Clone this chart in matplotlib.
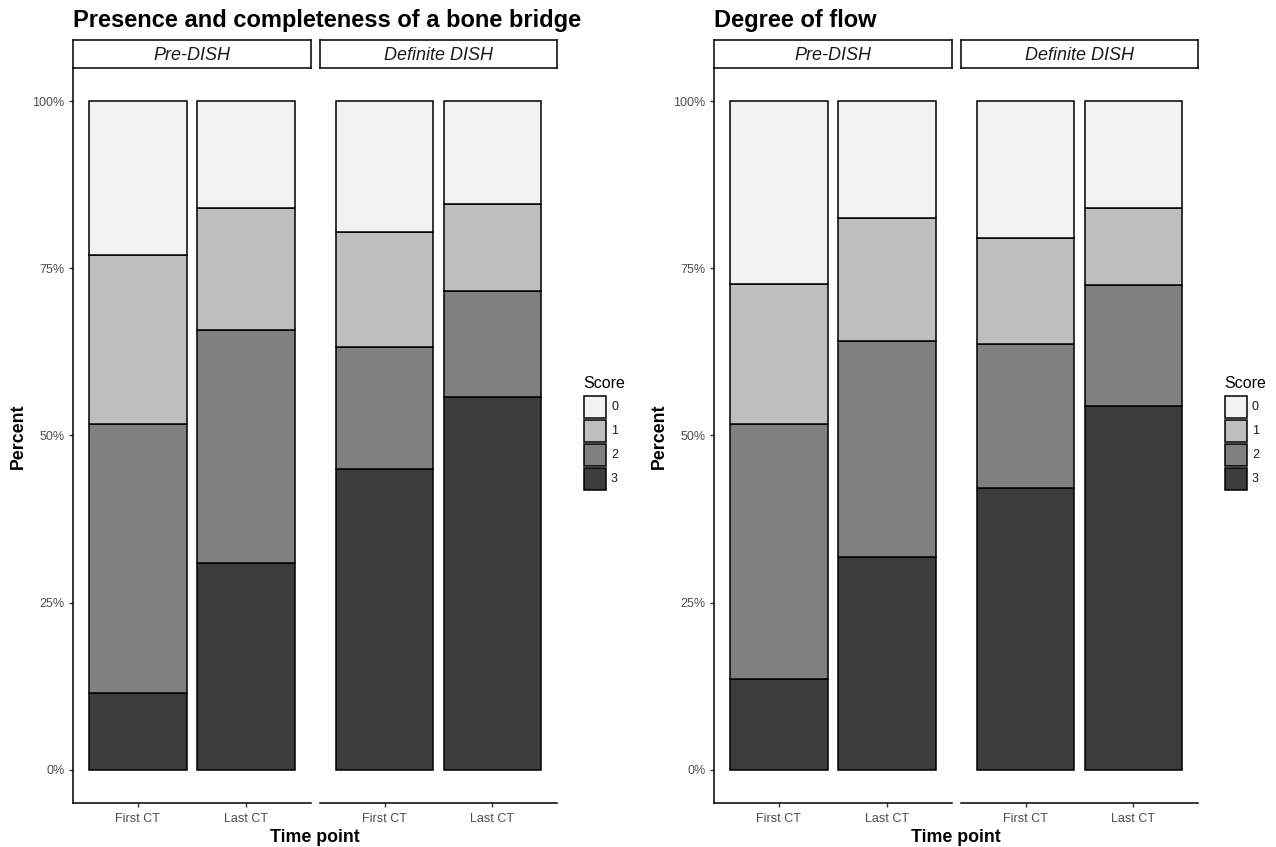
import matplotlib
matplotlib.use("Agg")
import matplotlib.pyplot as plt
from matplotlib.patches import Rectangle
from matplotlib.ticker import FuncFormatter

plt.rcParams['font.family'] = ['Liberation Sans', 'DejaVu Sans']

timepoints = ["First CT", "Last CT"]
groups = ["Pre-DISH", "Definite DISH"]
scores = ["0", "1", "2", "3"]
score_colors = ["#F2F2F2", "#BEBEBE", "#808080", "#3D3D3D"]

# percent per score (0, 1, 2, 3) for each timepoint
bridge_pre = {"0": [23.0, 16.0], "1": [25.3, 18.2], "2": [40.2, 34.9], "3": [11.5, 30.9]}
bridge_def = {"0": [19.6, 15.4], "1": [17.2, 13.0], "2": [18.2, 15.8], "3": [45.0, 55.8]}
flow_pre = {"0": [27.4, 17.5], "1": [20.9, 18.4], "2": [38.2, 32.3], "3": [13.5, 31.8]}
flow_def = {"0": [20.5, 16.0], "1": [15.8, 11.5], "2": [21.5, 18.1], "3": [42.2, 54.4]}

W, H = 1276, 847
fig = plt.figure(figsize=(W / 100, H / 100), dpi=100)


def px_axes(x0, y0, x1, y1):
    return fig.add_axes([x0 / W, 1 - y1 / H, (x1 - x0) / W, (y1 - y0) / H])


def facet(ax, data, first):
    x = range(len(timepoints))
    bottom = [0.0] * len(timepoints)
    # stack with score 3 at the bottom
    for s in reversed(scores):
        vals = [v / 100 for v in data[s]]
        ax.bar(x, vals, width=0.9, bottom=bottom, color=score_colors[scores.index(s)],
               edgecolor="black", linewidth=1.1)
        bottom = [b + v for b, v in zip(bottom, vals)]
    ax.set_xlim(-0.6, 1.6)
    ax.set_ylim(-0.05, 1.05)
    ax.set_xticks(list(x))
    ax.set_xticklabels(timepoints)
    ax.set_yticks([0, 0.25, 0.5, 0.75, 1.0])
    ax.yaxis.set_major_formatter(FuncFormatter(lambda v, p: f"{int(round(v * 100))}%"))
    for sp in ["top", "right"]:
        ax.spines[sp].set_visible(False)
    ax.spines["bottom"].set_linewidth(1.1)
    ax.spines["left"].set_linewidth(1.1)
    ax.tick_params(labelsize=9, colors="#333333", labelcolor="#4D4D4D", length=3, width=1, pad=3)
    ax.tick_params(axis="x", pad=4.5)
    if not first:
        ax.spines["left"].set_visible(False)
        ax.tick_params(axis="y", left=False, labelleft=False)


def strip(x0, x1, label):
    sax = px_axes(x0, 40, x1, 68)
    sax.set_xticks([])
    sax.set_yticks([])
    for sp in sax.spines.values():
        sp.set_linewidth(1.1)
    sax.text(0.5, 0.45, label, ha="center", va="center", style="italic", fontsize=13,
             color="#1A1A1A", transform=sax.transAxes)


def legend(x0):
    fig.text(x0 / W, 1 - 383 / H, "Score", fontsize=11.5, ha="left", va="center")
    lax = px_axes(x0, 395, x0 + 60, 492)
    lax.set_xlim(0, 60)
    lax.set_ylim(97, 0)
    lax.axis("off")
    for i, s in enumerate(scores):
        lax.add_patch(Rectangle((1, 1 + i * 24), 22, 22, facecolor=score_colors[i],
                                edgecolor="black", linewidth=1.1))
        lax.text(28, 12 + i * 24, s, fontsize=9, va="center", ha="left", color="#1A1A1A")


def plot_block(xoff, title, pre, dfn):
    a1 = px_axes(xoff + 73, 68, xoff + 311, 803)
    a2 = px_axes(xoff + 320, 68, xoff + 557, 803)
    facet(a1, pre, True)
    facet(a2, dfn, False)
    strip(xoff + 73, xoff + 311, groups[0])
    strip(xoff + 320, xoff + 557, groups[1])
    fig.text((xoff + 73) / W, 1 - 20 / H, title, fontsize=17, fontweight="bold",
             ha="left", va="center")
    fig.text((xoff + 18) / W, 1 - 436 / H, "Percent", fontsize=12.8, fontweight="bold",
             rotation=90, ha="center", va="center")
    fig.text((xoff + 315) / W, 1 - 837 / H, "Time point", fontsize=12.8, fontweight="bold",
             ha="center", va="center")
    legend(xoff + 583)


plot_block(0, "Presence and completeness of a bone bridge", bridge_pre, bridge_def)
plot_block(641, "Degree of flow", flow_pre, flow_def)

fig.savefig("out.png", dpi=100)
